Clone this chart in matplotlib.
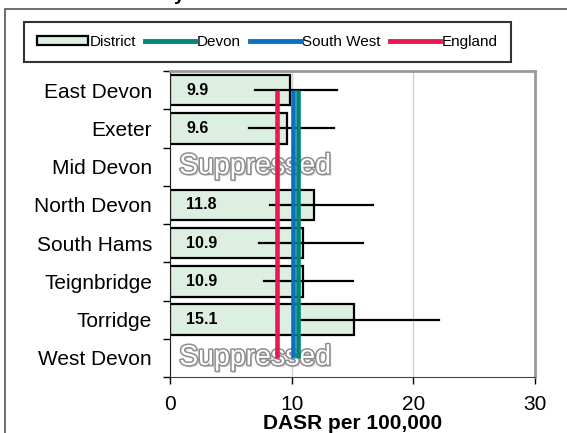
import numpy as np
import matplotlib
matplotlib.use("Agg")
import matplotlib.pyplot as plt
import matplotlib.patheffects as pe
from matplotlib.patches import Rectangle, Patch
from matplotlib.lines import Line2D

plt.rcParams['font.family'] = ['Liberation Sans', 'DejaVu Sans']

# =========================================================
# data
# =========================================================
districts = ["East Devon", "Exeter", "Mid Devon", "North Devon",
             "South Hams", "Teignbridge", "Torridge", "West Devon"]
rate  = [9.9, 9.6, None, 11.8, 10.9, 10.9, 15.1, None]
lower = [7.0, 6.5, None, 8.2, 7.3, 7.75, 10.6, None]
upper = [13.7, 13.5, None, 16.7, 15.9, 15.05, 22.15, None]

devon_rate = 10.5
sw_rate    = 10.15
eng_rate   = 8.8

bar_fill = "#ddefe1"
c_devon  = "#00857a"
c_sw     = "#0a70c2"
c_eng    = "#e8194f"

# =========================================================
# figure
# =========================================================
fig = plt.figure(figsize=(5.67, 4.33), dpi=100)
ax = fig.add_axes([170/567, 1 - 377/433, 365/567, 306/433])

# outer frame (chart area border, runs off the page)
fig.patches.append(Rectangle((5/567, -0.1), 1.2, 1 - 9/433 + 0.1,
                             transform=fig.transFigure, fill=False,
                             edgecolor="#555555", lw=1.2, zorder=0))
# cut-off title
fig.text(179/567, 1 - 0.5/433, "y", fontsize=14, fontweight='bold',
         ha='center', va='baseline')

y = np.arange(len(districts))

for i, v in enumerate(rate):
    if v is None:
        ax.text(0.75, i, "Suppressed", fontsize=20.5, color="white",
                va='center', ha='left', zorder=2,
                path_effects=[pe.withSimplePatchShadow(offset=(1.5, -1.5),
                                                       shadow_rgbFace="#bbbbbb", alpha=0.6),
                              pe.Stroke(linewidth=2.2, foreground="#8c8c8c"),
                              pe.Normal()])
        continue
    ax.barh(i, v, height=0.8, color=bar_fill, edgecolor="black",
            linewidth=1.6, zorder=2)
    ax.plot([lower[i], upper[i]], [i, i], color="black", lw=1.6, zorder=3)
    ax.text(1.35, i, f"{v:.1f}", fontsize=11.5, fontweight='bold',
            va='center', ha='left', zorder=4)

ax.plot([devon_rate, devon_rate], [0, 7], color=c_devon, lw=3.3,
        solid_capstyle='butt', zorder=5)
ax.plot([sw_rate, sw_rate], [0, 7], color=c_sw, lw=3.3,
        solid_capstyle='butt', zorder=5)
ax.plot([eng_rate, eng_rate], [0, 7], color=c_eng, lw=3.3,
        solid_capstyle='butt', zorder=5)

ax.set_xlim(0, 30)
ax.set_ylim(7.5, -0.5)
ax.set_xticks([0, 10, 20, 30])
ax.set_xticklabels(["0", "10", "20", "30"], fontsize=15)
ax.set_yticks(y)
ax.set_yticklabels(districts, fontsize=15)
ax.set_yticks(np.arange(-0.5, 8, 1), minor=True)
ax.tick_params(axis='y', which='major', length=0, pad=13)
ax.tick_params(axis='y', which='minor', length=5, width=1, direction='out')
ax.tick_params(axis='x', length=5, width=1, direction='out', pad=8)
ax.grid(axis='x', color="#d0d0d0", lw=1, zorder=0)
ax.set_axisbelow(True)

ax.spines['top'].set_color("#999999")
ax.spines['top'].set_linewidth(2)
ax.spines['right'].set_color("#999999")
ax.spines['right'].set_linewidth(2)
ax.spines['left'].set_color("#222222")
ax.spines['bottom'].set_color("#444444")

ax.set_xlabel("DASR per 100,000", fontsize=15, fontweight='bold', labelpad=0)

handles = [Patch(facecolor=bar_fill, edgecolor="black", linewidth=1.6),
           Line2D([], [], color=c_devon, lw=3.5),
           Line2D([], [], color=c_sw, lw=3.5),
           Line2D([], [], color=c_eng, lw=3.5)]
leg = fig.legend(handles, ["District", "Devon", "South West", "England"],
                 loc='center', bbox_to_anchor=(267.5/567, 1 - 42/433),
                 ncol=4, fontsize=11, frameon=True, fancybox=False,
                 handlelength=3.3, handleheight=0.5, handletextpad=0.1,
                 columnspacing=0.6, borderpad=0.85)
leg.get_frame().set_edgecolor("black")
leg.get_frame().set_linewidth(1.5)

fig.savefig("out.png", dpi=100)
